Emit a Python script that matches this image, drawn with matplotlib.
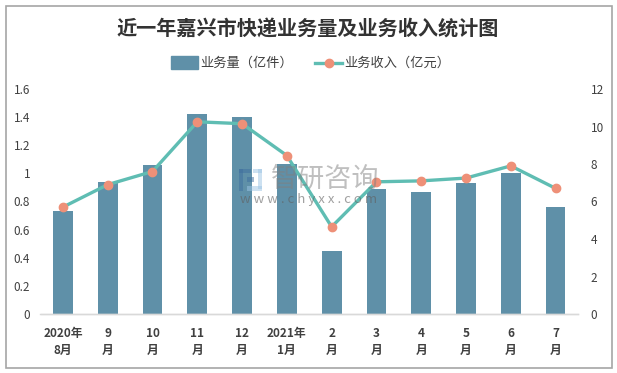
import matplotlib
matplotlib.use("Agg")
import matplotlib.pyplot as plt
from matplotlib.patches import Rectangle

plt.rcParams["font.family"] = ["Noto Sans CJK SC", "DejaVu Sans"]

# Data
months = ["2020年\n8月", "9\n月", "10\n月", "11\n月", "12\n月", "2021年\n1月",
          "2\n月", "3\n月", "4\n月", "5\n月", "6\n月", "7\n月"]
volume = [0.73, 0.94, 1.06, 1.42, 1.40, 1.07, 0.445, 0.89, 0.87, 0.93, 1.0, 0.76]
income = [5.7, 6.9, 7.6, 10.25, 10.15, 8.45, 4.65, 7.05, 7.1, 7.25, 7.9, 6.7]
left_ticks = [0, 0.2, 0.4, 0.6, 0.8, 1, 1.2, 1.4, 1.6]
right_ticks = [0, 2, 4, 6, 8, 10, 12]

W, H = 617, 373
bar_color = "#5f90a8"
line_color = "#5fbdb3"
dot_color = "#ee9078"
text_color = "#404040"

fig = plt.figure(figsize=(W / 100, H / 100), dpi=100)
ax = fig.add_axes([40.5 / W, 1 - 314 / H, 537.5 / W, 225 / H])
x = range(len(months))

ax.bar(x, volume, width=0.44, color=bar_color, zorder=2)
ax.set_xlim(-0.5, 11.5)
ax.set_ylim(0, 1.6)
ax.set_yticks(left_ticks)
ax.set_yticklabels([str(t) for t in left_ticks], fontsize=8.5, color=text_color)
ax.set_xticks(list(x))
ax.set_xticklabels(months, fontsize=8.5, color=text_color, fontweight="bold", linespacing=1.4)
ax.tick_params(axis="both", length=0)
ax.tick_params(axis="x", pad=9.5)
ax.tick_params(axis="y", pad=7.5)

ax2 = ax.twinx()
ax2.plot(x, income, color=line_color, lw=2.4, marker="o", ms=6,
         mfc=dot_color, mec=dot_color, zorder=3)
ax2.set_ylim(0, 12)
ax2.set_yticks(right_ticks)
ax2.set_yticklabels([str(t) for t in right_ticks], fontsize=8.5, color=text_color)
ax2.tick_params(axis="y", length=0, pad=9)

for a in (ax, ax2):
    for side in ("top", "left", "right"):
        a.spines[side].set_visible(False)
    a.spines["bottom"].set_color("#d9d9d9")
    a.spines["bottom"].set_linewidth(1)

# Title
fig.text(308 / W, 1 - 29 / H, "近一年嘉兴市快递业务量及业务收入统计图", fontsize=14.5,
         fontweight="bold", color="#333333", ha="center", va="center")

# Legend
fig.add_artist(Rectangle((171 / W, 1 - 68.5 / H), 27 / W, 12 / H, color=bar_color,
                         transform=fig.transFigure))
fig.text(200 / W, 1 - 63 / H, "业务量（亿件）", fontsize=9.5, color=text_color, va="center")
fig.add_artist(plt.Line2D([315 / W, 342 / W], [1 - 62.5 / H] * 2, color=line_color, lw=2.4,
                          transform=fig.transFigure))
fig.add_artist(plt.Line2D([328.5 / W], [1 - 62.5 / H], marker="o", ms=6, color=dot_color,
                          transform=fig.transFigure))
fig.text(344 / W, 1 - 63 / H, "业务收入（亿元）", fontsize=9.5, color=text_color, va="center")

# Watermark
for bx, by, bw, bh, col in [(239, 169, 12, 4, "#3f6f9f"), (239, 169, 4, 22, "#3f6f9f"),
                            (253, 169, 9, 4, "#9cc4e4"), (258, 169, 4, 20, "#9cc4e4"),
                            (247, 177, 7, 5, "#3f6f9f"), (247, 186, 15, 5, "#9cc4e4")]:
    fig.add_artist(Rectangle((bx / W, 1 - (by + bh) / H), bw / W, bh / H, color=col,
                             alpha=0.5, lw=0, transform=fig.transFigure, zorder=5))
fig.text(325 / W, 1 - 179 / H, "智研咨询", fontsize=19.5, color="#808080", alpha=0.5,
         ha="center", va="center", zorder=5)
fig.text(309 / W, 1 - 199 / H, "w w w . c h y x x . c o m", fontsize=9.5, color="#606060",
         alpha=0.6, ha="center", va="center", zorder=5)

# Outer border
fig.add_artist(Rectangle((5.5 / W, 1 - 367.5 / H), 606.5 / W, 362 / H, fill=False,
                         ec="#a6a6a6", lw=1.2, transform=fig.transFigure))

fig.savefig("out.png", dpi=100, facecolor="white")
